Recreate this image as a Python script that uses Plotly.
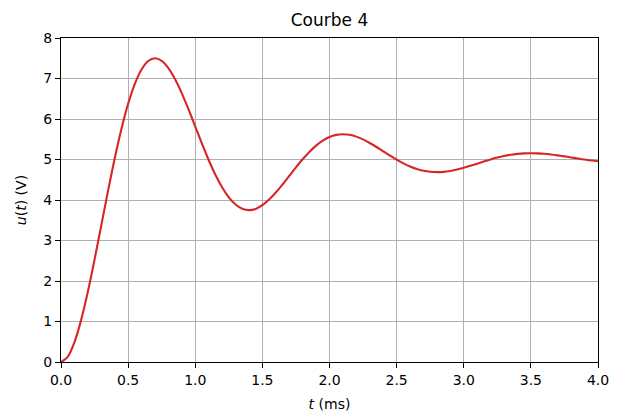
import plotly.graph_objects as go

t_ms = [0.0, 0.05, 0.1, 0.15, 0.2, 0.25, 0.3, 0.35, 0.4, 0.45, 0.5, 0.55, 0.6, 0.65, 0.7, 0.75, 0.8, 0.85, 0.9, 0.95,
        1.0, 1.05, 1.1, 1.15, 1.2, 1.25, 1.3, 1.35, 1.4, 1.45, 1.5, 1.55, 1.6, 1.65, 1.7, 1.75, 1.8, 1.85, 1.9, 1.95,
        2.0, 2.05, 2.1, 2.15, 2.2, 2.25, 2.3, 2.35, 2.4, 2.45, 2.5, 2.55, 2.6, 2.65, 2.7, 2.75, 2.8, 2.85, 2.9, 2.95,
        3.0, 3.05, 3.1, 3.15, 3.2, 3.25, 3.3, 3.35, 3.4, 3.45, 3.5, 3.55, 3.6, 3.65, 3.7, 3.75, 3.8, 3.85, 3.9, 3.95, 4.0]
u_volts = [0.0, 0.127, 0.486, 1.04, 1.735, 2.53, 3.374, 4.22, 5.025, 5.753, 6.375, 6.869, 7.223, 7.432, 7.5, 7.437,
           7.257, 6.98, 6.633, 6.235, 5.813, 5.39, 4.988, 4.623, 4.313, 4.065, 3.888, 3.783, 3.75, 3.78, 3.871, 4.01,
           4.184, 4.383, 4.594, 4.805, 5.006, 5.188, 5.344, 5.467, 5.556, 5.608, 5.625, 5.609, 5.565, 5.496, 5.408,
           5.309, 5.203, 5.098, 4.997, 4.906, 4.828, 4.766, 4.722, 4.696, 4.688, 4.695, 4.718, 4.752, 4.796, 4.846,
           4.898, 4.951, 5.002, 5.047, 5.086, 5.117, 5.139, 5.152, 5.156, 5.152, 5.141, 5.124, 5.102, 5.077, 5.051,
           5.024, 4.999, 4.976, 4.957]

x_ticks = [0.0, 0.5, 1.0, 1.5, 2.0, 2.5, 3.0, 3.5, 4.0]
x_tick_labels = ["0.0", "0.5", "1.0", "1.5", "2.0", "2.5", "3.0", "3.5", "4.0"]
y_ticks = [0, 1, 2, 3, 4, 5, 6, 7, 8]

fig = go.Figure()
fig.add_trace(go.Scatter(x=t_ms, y=u_volts, mode="lines", line=dict(color="#d62728", width=2.1, shape="spline"),
                         showlegend=False))

font = "DejaVu Sans"
fig.update_layout(
    width=621, height=415,
    margin=dict(l=61, r=23, t=38, b=53),
    paper_bgcolor="white", plot_bgcolor="white",
    font=dict(family=font, size=14, color="black"),
    title=dict(text="Courbe 4", x=(61 + 598) / 2 / 621, xanchor="center", y=1 - 20 / 415, yanchor="middle",
               font=dict(family=font, size=17, color="black")),
)
axis_common = dict(showgrid=True, gridcolor="#b0b0b0", gridwidth=1.1, showline=True, linecolor="black",
                   linewidth=1.1, mirror=True, ticks="outside", ticklen=5, tickcolor="black", zeroline=False,
                   automargin=False, tickfont=dict(family=font, size=14, color="black"))
fig.update_xaxes(range=[0, 4], tickvals=x_ticks, ticktext=x_tick_labels,
                 title=dict(text="<i>t</i> (ms)", font=dict(family=font, size=14), standoff=12), **axis_common)
fig.update_yaxes(range=[0, 8], tickvals=y_ticks,
                 title=dict(text="<i>u</i>(<i>t</i>) (V)", font=dict(family=font, size=14), standoff=13), **axis_common)

fig.write_html("out.html", config={"displayModeBar": False},
               post_script="document.body.style.margin='0';document.body.style.padding='0';")
